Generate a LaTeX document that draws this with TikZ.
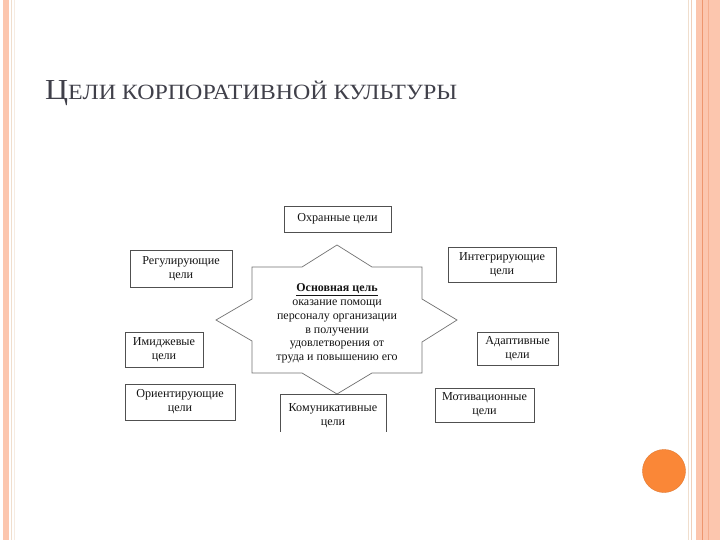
\documentclass[tikz,border=0pt]{standalone}
\usepackage{fontspec}
\setmainfont{Liberation Serif}
\definecolor{salmon}{RGB}{252,198,174}
\definecolor{salmondk}{RGB}{238,150,110}
\definecolor{beige}{RGB}{240,222,205}
\definecolor{orangec}{RGB}{250,135,55}
\definecolor{titlec}{RGB}{64,64,74}
\definecolor{linec}{RGB}{80,80,80}
\definecolor{txtc}{RGB}{20,20,20}
\tikzset{
  gbox/.style={draw=linec, line width=0.8bp, fill=white, align=center, inner sep=1bp,
    text=txtc, font=\fontsize{12.2}{14}\selectfont},
  starline/.style={draw=linec!80, line width=0.7bp}
}
\begin{document}
\begin{tikzpicture}[x=1bp,y=-1bp]
\useasboundingbox (0,0) rectangle (720,540);
\fill[white] (0,0) rectangle (720,540);
% left border
\fill[salmon] (3,0) rectangle (9,540);
\draw[beige, line width=0.8bp] (11.5,0) -- (11.5,540);
\draw[beige!60, line width=0.8bp] (14,0) -- (14,540);
% right border
\draw[beige, line width=0.8bp] (688,0) -- (688,540);
\draw[beige!80!salmondk, line width=0.8bp] (691.5,0) -- (691.5,540);
\fill[salmon] (696,0) rectangle (720,540);
\draw[salmondk, line width=1bp] (702,0) -- (702,540);
\draw[salmondk!50!salmon, line width=0.6bp] (708,0) -- (708,540);
% circle
\node[circle, fill=orangec, draw=orangec!90!black, line width=0.4bp, minimum size=43bp, inner sep=0] (dot) at (664,471) {};
% title
\node[anchor=base west, inner sep=0, text=titlec] (title) at (45,100)
  {\resizebox{412bp}{19bp}{\fontsize{20}{24}\selectfont Ц\fontsize{15}{18}\selectfont ЕЛИ КОРПОРАТИВНОЙ КУЛЬТУРЫ}};
% star
\draw[starline, fill=white] (337,245) -- (372,267) -- (422,267) -- (422,299) -- (457,320)
  -- (422,342) -- (422,373) -- (372,373) -- (337,394) -- (302,373) -- (252,373)
  -- (252,341) -- (216,320) -- (252,299) -- (252,267) -- (302,267) -- cycle;
\node[align=center, text=txtc, font=\fontsize{12}{13.8}\selectfont, inner sep=0] (main) at (337,323.5)
  {\underline{\textbf{Основная цель}}\\оказание помощи\\персоналу организации\\в получении\\удовлетворения от\\труда и повышению его};
% boxes
\node[gbox, minimum width=107bp, minimum height=26bp] (ohr) at (337.5,219) {Охранные цели};
\node[gbox, minimum width=102bp, minimum height=37bp] (reg) at (181,268.5) {Регулирующие\\цели};
\node[gbox, minimum width=108bp, minimum height=35bp] (int) at (502,264.5) {Интегрирующие\\цели};
\node[gbox, minimum width=78bp, minimum height=35bp] (img) at (164,349.5) {Имиджевые\\цели};
\node[gbox, minimum width=81bp, minimum height=33bp] (ad) at (517.5,348.5) {Адаптивные\\цели};
\node[gbox, minimum width=110bp, minimum height=36bp] (ori) at (180,402) {Ориентирующие\\цели};
\node[gbox, minimum width=99bp, minimum height=34bp] (mot) at (484.5,405) {Мотивационные\\цели};
\begin{scope}
\clip (0,0) rectangle (720,431);
\node[gbox, minimum width=106bp, minimum height=44bp] (kom) at (333,416) {Комуникативные\\цели};
\end{scope}
\end{tikzpicture}
\end{document}
